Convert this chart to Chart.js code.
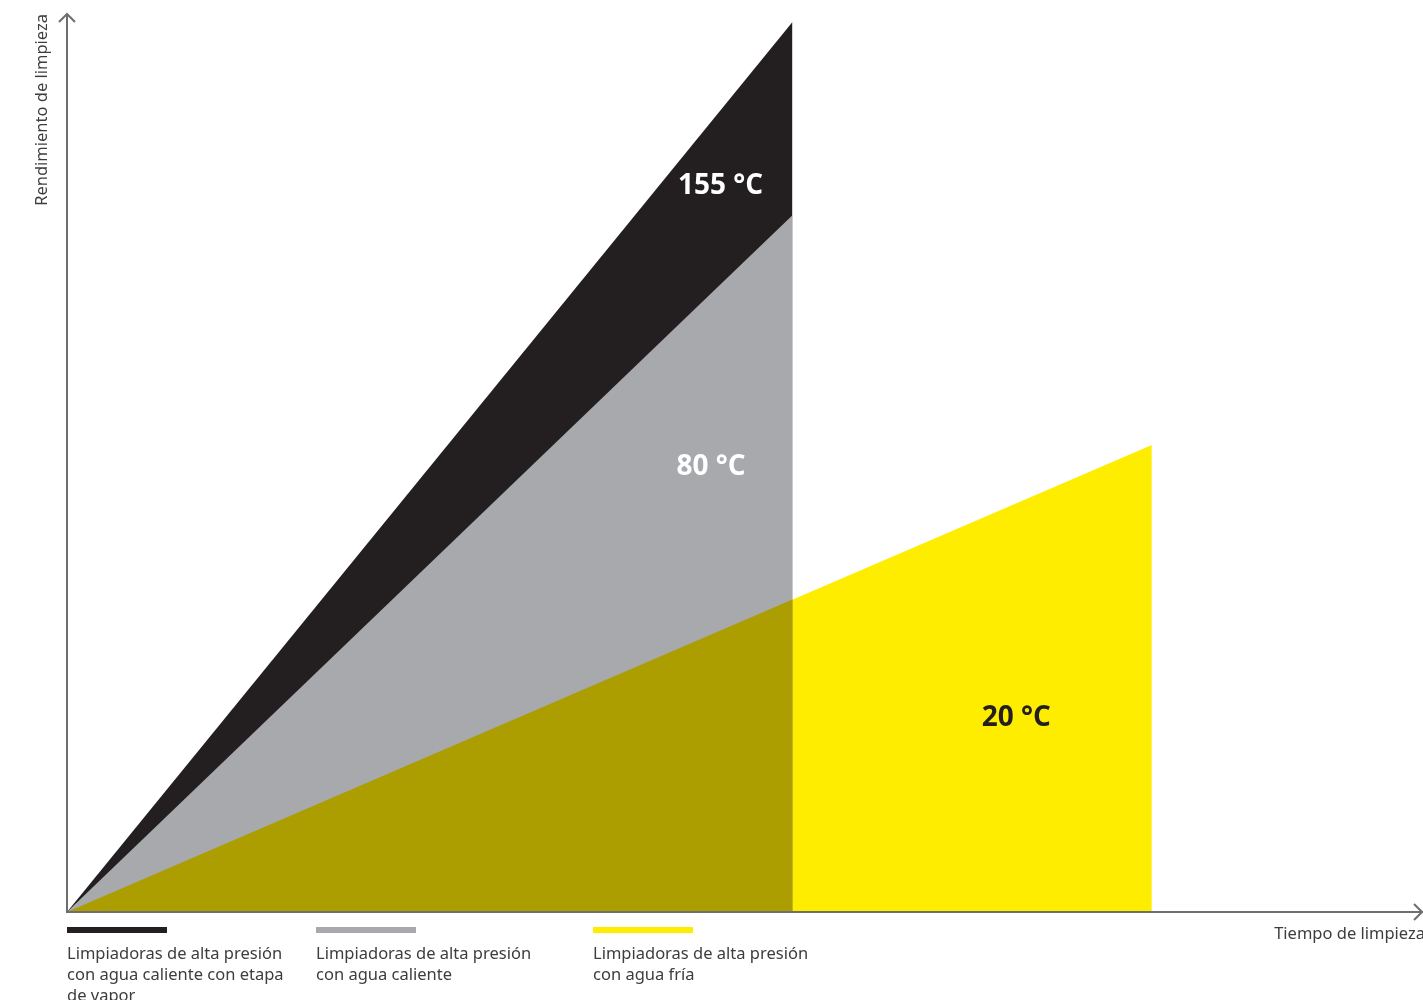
<!DOCTYPE html>
<html>
<head>
<meta charset="utf-8">
<script src="https://cdn.jsdelivr.net/npm/chart.js@4.4.1/dist/chart.umd.min.js"></script>
<style>
  html, body { margin: 0; padding: 0; background: #fff; overflow: hidden; }
  #wrap { position: relative; width: 1423px; height: 1000px; }
  canvas { position: absolute; left: 0; top: 0; }
  .legend { position: absolute; top: 927px; font-family: 'Noto Sans', sans-serif; font-size: 16.5px; line-height: 21px; color: #3d3d3f; white-space: nowrap; }
  .legend .bar { width: 100px; height: 6px; margin-bottom: 9px; }
</style>
</head>
<body>
<div id="wrap">
  <canvas id="chart" width="1423" height="1000"></canvas>
  <div id="legend"></div>
</div>
<script>
// Chart data (arbitrary units, 0-100 on both axes)
const seriesNames = [
  'Limpiadoras de alta presión\ncon agua caliente con etapa\nde vapor',
  'Limpiadoras de alta presión\ncon agua caliente',
  'Limpiadoras de alta presión\ncon agua fría'
];
const seriesColors = ['#231f20', '#a7a9ac', '#ffed00'];
const tempLabels = ['155 °C', '80 °C', '20 °C'];

// each series: time (x) and cleaning performance (y)
const steamX = [0, 53.5, 53.5];
const steamY = [0, 99.1, 0];
const hotX = [0, 53.5, 53.5];
const hotY = [0, 77.6, 0];
const coldX = [0, 80.0, 80.0];
const coldY = [0, 52.0, 0];
// part of the cold-water area lying over the hot-water area
const overlapX = [0, 53.5, 53.5];
const overlapY = [0, 34.8, 0];

const axisTitles = ['Tiempo de limpieza', 'Rendimiento de limpieza'];

function pts(xs, ys) {
  return xs.map((x, i) => ({ x: x, y: ys[i] }));
}

function area(label, xs, ys, color, order) {
  return {
    label: label,
    data: pts(xs, ys),
    backgroundColor: color,
    borderWidth: 0,
    borderColor: color,
    pointRadius: 0,
    fill: 'origin',
    tension: 0,
    order: order
  };
}

// legend in HTML
const legendEl = document.getElementById('legend');
const legendX = [67, 316, 593];
seriesNames.forEach((name, i) => {
  const d = document.createElement('div');
  d.className = 'legend';
  d.style.left = legendX[i] + 'px';
  d.innerHTML = '<div class="bar" style="background:' + seriesColors[i] + '"></div>' +
    name.split('\n').join('<br>');
  legendEl.appendChild(d);
});

const axisColor = '#6d6e71';

const decorations = {
  id: 'decorations',
  afterDatasetsDraw(chart) {
    const ctx = chart.ctx;
    const xs = chart.scales.x, ys = chart.scales.y;
    const x0 = xs.getPixelForValue(0), y0 = ys.getPixelForValue(0);

    // temperature labels
    ctx.save();
    ctx.font = 'bold 28px "Open Sans", sans-serif';
    ctx.textAlign = 'center';
    ctx.textBaseline = 'middle';
    ctx.fillStyle = '#ffffff';
    ctx.fillText(tempLabels[0], xs.getPixelForValue(48.2), ys.getPixelForValue(80.8));
    ctx.fillText(tempLabels[1], xs.getPixelForValue(47.5), ys.getPixelForValue(49.5));
    ctx.fillStyle = '#231f20';
    ctx.fillText(tempLabels[2], xs.getPixelForValue(70.0), ys.getPixelForValue(21.6));
    ctx.restore();

    // axes with open arrow heads
    ctx.save();
    ctx.strokeStyle = axisColor;
    ctx.lineWidth = 2;
    ctx.beginPath();
    ctx.moveTo(x0, y0);
    ctx.lineTo(x0, 14);
    ctx.moveTo(x0 - 8, 22);
    ctx.lineTo(x0, 14);
    ctx.lineTo(x0 + 8, 22);
    ctx.moveTo(x0 - 1, y0);
    ctx.lineTo(1423, y0);
    ctx.moveTo(1414, y0 - 8);
    ctx.lineTo(1422, y0);
    ctx.lineTo(1414, y0 + 8);
    ctx.stroke();
    ctx.lineWidth = 1;

    // axis titles
    ctx.fillStyle = '#3d3d3f';
    ctx.font = '16.5px "Noto Sans", sans-serif';
    ctx.textAlign = 'right';
    ctx.textBaseline = 'middle';
    ctx.fillText(axisTitles[0], 1425, 934);
    ctx.translate(42, 14);
    ctx.rotate(-Math.PI / 2);
    ctx.fillText(axisTitles[1], 0, 0);
    ctx.restore();
  }
};

new Chart(document.getElementById('chart'), {
  type: 'line',
  data: {
    datasets: [
      area('overlap', overlapX, overlapY, '#ac9e00', 0),
      area(seriesNames[1], hotX, hotY, seriesColors[1], 1),
      area(seriesNames[0], steamX, steamY, seriesColors[0], 2),
      area(seriesNames[2], coldX, coldY, seriesColors[2], 3)
    ]
  },
  options: {
    responsive: false,
    animation: false,
    devicePixelRatio: 1,
    layout: { padding: { left: 67, right: 0, top: 14, bottom: 88 } },
    plugins: {
      legend: { display: false },
      tooltip: { enabled: false }
    },
    scales: {
      x: { type: 'linear', min: 0, max: 100, display: false },
      y: { type: 'linear', min: 0, max: 100, display: false }
    }
  },
  plugins: [decorations]
});
</script>
</body>
</html>
